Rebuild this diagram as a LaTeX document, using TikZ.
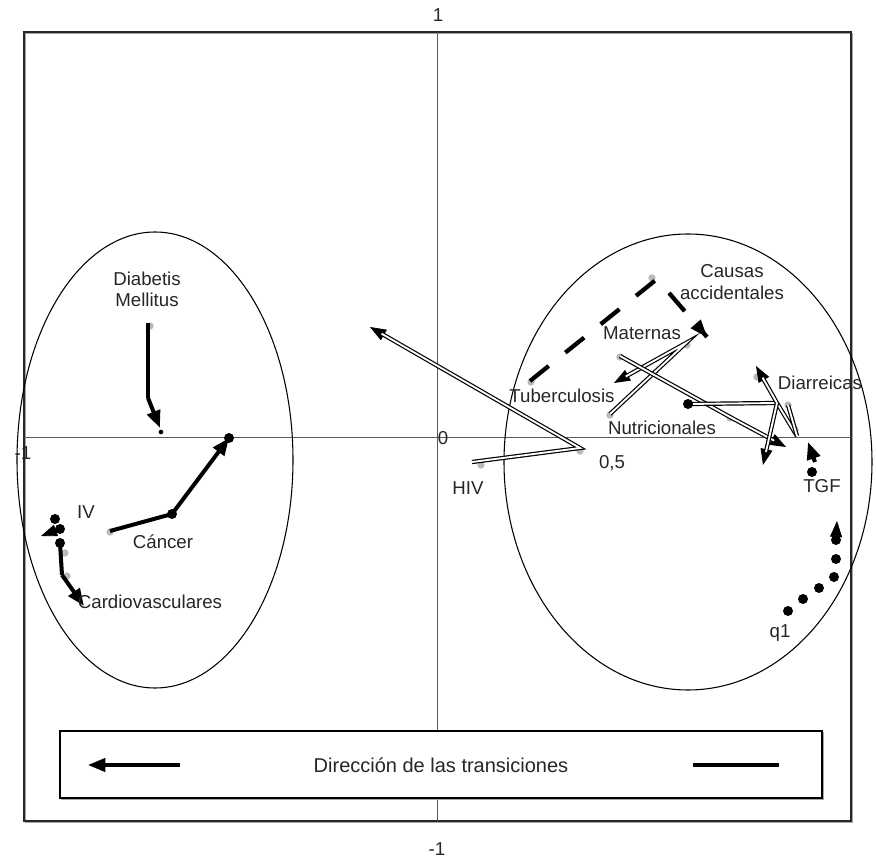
\documentclass[tikz,border=0pt]{standalone}
\usepackage{fontspec}
\setmainfont{Liberation Sans}
\usetikzlibrary{arrows.meta,calc}
\begin{document}
\begin{tikzpicture}[x=0.75pt,y=-0.75pt,
  lbl/.style={font=\fontsize{14}{16}\selectfont, inner sep=0pt, align=center, text=black!85},
  thk/.style={line width=3pt, line join=round},
  thkarrow/.style={line width=3pt, line join=round, -{Triangle[length=13pt,width=10pt]}},
  tipa/.style={line width=0.6pt, -{Triangle[length=12pt,width=9pt]}},
  dbl/.style={double=white, double distance=1.4pt, line width=0.9pt, line join=miter},
  dsh/.style={line width=3.2pt, dash pattern=on 18pt off 16pt},
  gdot/.style={circle, fill=gray!55, inner sep=0pt, minimum size=5.5pt},
  bdot/.style={circle, fill=black, inner sep=0pt, minimum size=7.5pt},
  sdot/.style={circle, fill=black, inner sep=0pt, minimum size=3.5pt},
  frame/.style={line width=0.8pt, draw=black!85},
  axis/.style={line width=0.7pt, draw=black!65},
  ell/.style={line width=0.8pt, draw=black}
]
\useasboundingbox (0,0) rectangle (876,866);

% frame and axes
\draw[line width=0.8pt, draw=black!35] (25.5,33.5) rectangle (852.5,822.5);
\draw[frame] (24,32) rectangle (851,821);
\draw[axis] (24,437) -- (851,437);
\draw[axis] (437,32) -- (437,821);

% axis labels
\node[lbl] (ytop) at (438,15) {1};
\node[lbl] (ybot) at (437,849) {-1};
\node[lbl] (xleft) at (23,453) {-1};
\node[lbl] (zero) at (443,438) {0};
\node[lbl] (half) at (612,463) {0,5};

% ellipses
\draw[ell] (155,460) ellipse [x radius=103.5pt, y radius=171pt];
\draw[ell] (688,462) ellipse [x radius=138pt, y radius=171pt];

% ---------- coordinates ----------
% Diabetis Mellitus
\coordinate (d1) at (148,323);
\coordinate (d2) at (148,398);
\coordinate (d3) at (160,428);
% Cancer
\coordinate (c1) at (110,531);
\coordinate (c2) at (172,514);
\coordinate (c3) at (229,438);
% IV
\coordinate (iv1) at (55,519);
\coordinate (iv2) at (60,529);
\coordinate (iv3) at (41,536);
% Cardiovasculares
\coordinate (cv1) at (60,543);
\coordinate (cv2) at (62,575);
\coordinate (cv3) at (84,606);
% HIV
\coordinate (h1) at (472,462);
\coordinate (h2) at (580,448);
\coordinate (h3) at (370,327);
% Causas accidentales
\coordinate (a1) at (530,381);
\coordinate (a2) at (657,279);
\coordinate (a3) at (707,337);
% Maternas
\coordinate (m1) at (610,414);
\coordinate (m2) at (686,343);
\coordinate (m3) at (614,383);
% Nutricionales
\coordinate (n1) at (620,356);
\coordinate (n2) at (730,417);
\coordinate (n3) at (786,447);
% Diarreicas
\coordinate (r1) at (688,404);
\coordinate (r2) at (777,403);
\coordinate (r3) at (756,366);
\coordinate (r4) at (763,465);
\coordinate (r5) at (797,436);
\coordinate (r6) at (788,405);
% TGF
\coordinate (t1) at (815,462);
\coordinate (t2) at (808,442);
% q1
\coordinate (q6) at (836,538);
\coordinate (q7) at (837,521);

% ---------- gray dots ----------
\node[gdot] (gd1) at (150,326) {};
\node[gdot] (gc1) at (110,532) {};
\node[gdot] (gcv1) at (65,553) {};
\node[gdot] (gcv2) at (67,576) {};
\node[gdot] (gh1) at (481,465) {};
\node[gdot] (gh2) at (580,451) {};
\node[gdot] (ga1) at (531,382) {};
\node[gdot] (ga2) at (652,278) {};
\node[gdot] (gm1) at (610,415) {};
\node[gdot] (gm2) at (687,345) {};
\node[gdot] (gn1) at (620,357) {};
\node[gdot] (gn2) at (730,418) {};
\node[gdot] (gr3) at (757,377) {};
\node[gdot] (gr6) at (788,405) {};
\node[gdot] (gr5) at (795,430) {};

% ---------- thick solid trajectories (left cluster) ----------
\draw[thk] (d1) -- (d2);
\draw[thkarrow] (d2) -- (d3);
\draw[thk] (c1) -- (c2);
\draw[thkarrow] (c2) -- (c3);
\draw[tipa] (iv2) -- (iv3);
\draw[thk] (cv1) -- (cv2);
\draw[thkarrow] (cv2) -- (cv3);

% ---------- dashed trajectory ----------
\draw[dsh] (a1) -- (a2) -- (a3);
\draw[line width=0.6pt, -{Triangle[length=13pt,width=10pt]}] ($(a3)!1pt!(a2)$) -- (a3);

% ---------- double-line trajectories ----------
% HIV
\draw[tipa] (h2) -- (h3);
\draw[dbl, shorten >=10pt] (h1) -- (h2) -- (h3);
% Maternas
\draw[tipa] (m2) -- (m3);
\draw[dbl, shorten >=10pt] (m1) -- (m2) -- (m3);
% Nutricionales
\draw[tipa] (n2) -- (n3);
\draw[dbl, shorten >=10pt] (n1) -- (n2) -- (n3);
% Diarreicas
\draw[dbl] (r1) -- (r2);
\draw[dbl] (r2) -- (r5);
\draw[dbl] (r6) -- (r5);
\draw[tipa] (r2) -- (r3);
\draw[dbl, shorten >=10pt] (r2) -- (r3);
\draw[tipa] (r2) -- (r4);
\draw[dbl, shorten >=10pt] (r2) -- (r4);
% TGF
\draw[thkarrow] (t1) -- (t2);
% q1
\draw[line width=0.6pt, -{Triangle[length=12pt,width=9pt]}] (q6) -- (q7);

% ---------- black dots ----------
\node[sdot] (bd3) at (161,432) {};
\node[bdot] (bc2) at (172,514) {};
\node[bdot] (bc3) at (229,438) {};
\node[bdot] (biv1) at (55,519) {};
\node[bdot] (biv2) at (60,529) {};
\node[bdot] (bcv1) at (60,543) {};
\node[bdot] (br1) at (688,404) {};
\node[bdot] (bt1) at (812,472) {};
\node[bdot] (bq1) at (788,611) {};
\node[bdot] (bq2) at (803,599) {};
\node[bdot] (bq3) at (819,588) {};
\node[bdot] (bq4) at (834,577) {};
\node[bdot] (bq5) at (836,559) {};
\node[bdot] (bq6) at (836,540) {};

% ---------- labels ----------
\node[lbl] (ldiab) at (147,289) {Diabetis\\Mellitus};
\node[lbl] (liv) at (86,512) {IV};
\node[lbl] (lcan) at (163,542) {Cáncer};
\node[lbl] (lcard) at (150,602) {Cardiovasculares};
\node[lbl] (lhiv) at (468,488) {HIV};
\node[lbl] (ltub) at (562,396) {Tuberculosis};
\node[lbl] (lmat) at (642,333) {Maternas};
\node[lbl] (lcaus) at (732,282) {Causas\\accidentales};
\node[lbl] (lnut) at (662,428) {Nutricionales};
\node[lbl] (ldia) at (820,383) {Diarreicas};
\node[lbl] (ltgf) at (822,486) {TGF};
\node[lbl] (lq1) at (780,633) {q1};

% ---------- legend ----------
\draw[line width=0.8pt, draw=black!35] (61.5,732.5) rectangle (823.5,799.5);
\draw[line width=0.8pt, fill=white] (60,731) rectangle (822,798);
\coordinate (la1) at (180,765);
\coordinate (la2) at (88,765);
\coordinate (lb1) at (693,765);
\coordinate (lb2) at (779,765);
\draw[line width=2.4pt, -{Triangle[length=13pt,width=10pt]}] (la1) -- (la2);
\draw[line width=2.4pt] (lb1) -- (lb2);
\node[lbl, font=\fontsize{15}{17}\selectfont] (ltxt) at (441,765) {Dirección de las transiciones};
\end{tikzpicture}
\end{document}
